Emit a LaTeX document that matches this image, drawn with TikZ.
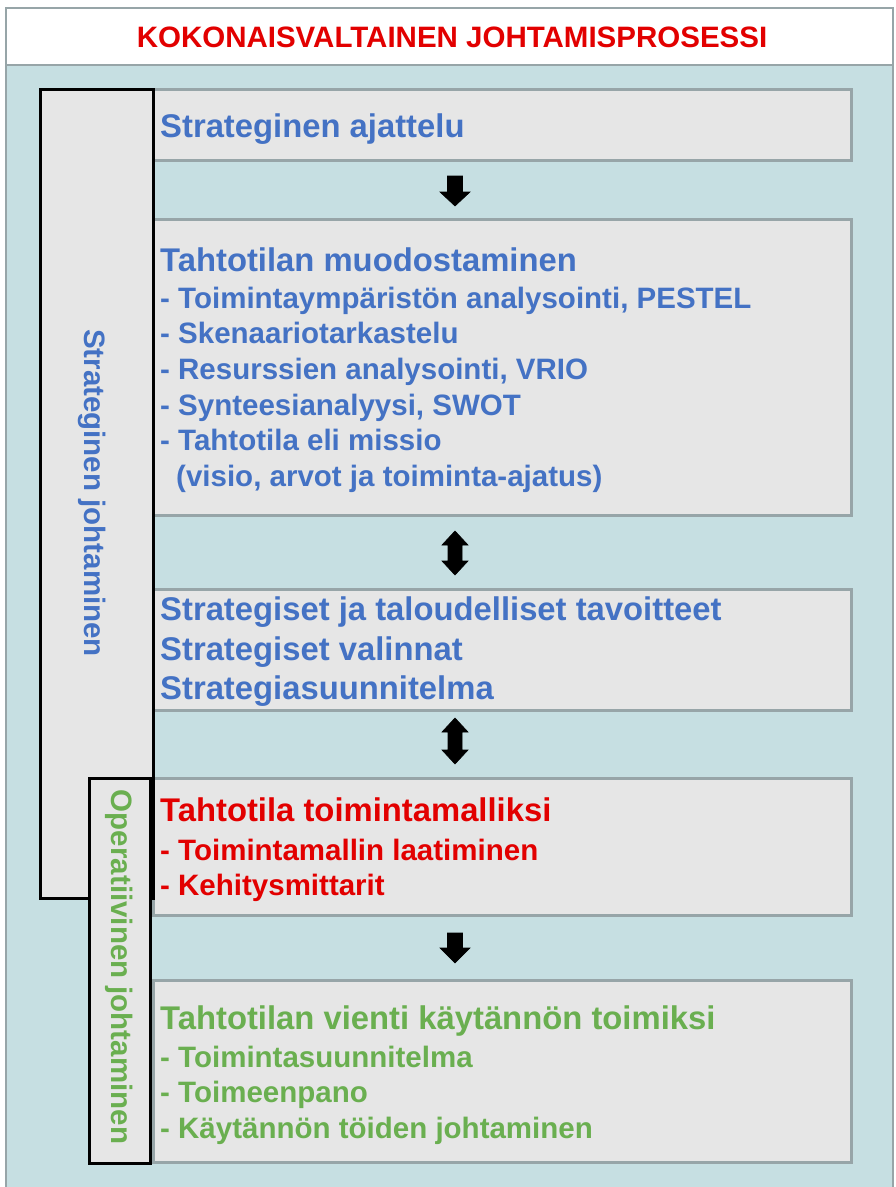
\documentclass[tikz,border=0pt]{standalone}
\usepackage{fontspec}
\setmainfont{Liberation Sans}
\definecolor{panelblue}{RGB}{198,223,226}
\definecolor{boxgray}{RGB}{230,230,230}
\definecolor{edgegray}{RGB}{151,165,168}
\definecolor{txtblue}{RGB}{68,114,196}
\definecolor{txtred}{RGB}{226,0,0}
\definecolor{txtgreen}{RGB}{106,175,80}
\tikzset{
  stagebox/.style={fill=boxgray, draw=edgegray, line width=3pt},
  sidebox/.style={fill=boxgray, draw=black, line width=3pt},
  head/.style={anchor=base west, inner sep=0pt, font=\fontsize{32.8}{39}\selectfont\bfseries},
  item/.style={anchor=base west, inner sep=0pt, font=\fontsize{29.5}{35}\selectfont\bfseries},
  sidelabel/.style={rotate=-90, inner sep=0pt, font=\fontsize{29.5}{35}\selectfont\bfseries},
  blockarrow/.style={fill=black, draw=black, line width=0.6pt, line join=miter}
}
% filled down arrow: x centre, top of shaft, start of head, tip
\newcommand\blockdown[4]{%
  \filldraw[blockarrow] (#1-7.5,#2) -- (#1+7.5,#2) -- (#1+7.5,#3) -- (#1+15,#3)
    -- (#1,#4) -- (#1-15,#3) -- (#1-7.5,#3) -- cycle;}
% filled double arrow: x centre, upper tip, upper head base, lower head base, lower tip
\newcommand\blockboth[5]{%
  \filldraw[blockarrow] (#1,#2) -- (#1+13,#3) -- (#1+7,#3) -- (#1+7,#4) -- (#1+13,#4)
    -- (#1,#5) -- (#1-13,#4) -- (#1-7,#4) -- (#1-7,#3) -- (#1-13,#3) -- cycle;}
\begin{document}
\begin{tikzpicture}[x=1pt,y=-1pt]
\useasboundingbox (0,0) rectangle (895,1187);

% frame: title strip and coloured panel
\draw[fill=panelblue, draw=edgegray, line width=2.5pt] (6,65) rectangle (893,1200);
\draw[fill=white, draw=edgegray, line width=2.5pt] (6,8) rectangle (893,65);
\node[inner sep=0pt, anchor=base, text=txtred, font=\fontsize{29.5}{35}\selectfont\bfseries]
  (title) at (452,47) {KOKONAISVALTAINEN JOHTAMISPROSESSI};

% process stages
\draw[stagebox] (153,89) rectangle (851,160);
\draw[stagebox] (153,219) rectangle (851,515);
\draw[stagebox] (153,589) rectangle (851,710);
\draw[stagebox] (153,778) rectangle (851,915);
\draw[stagebox] (153,980) rectangle (851,1162);

% side brackets, drawn over the left edges of the stages
\draw[sidebox] (40,89) rectangle (153,898);
\draw[sidebox] (89,778) rectangle (150,1163);
\node[sidelabel, text=txtblue] (lblstrat) at (92,493) {Strateginen johtaminen};
\node[sidelabel, text=txtgreen] (lbloper) at (119,967) {Operatiivinen johtaminen};

\node[head, text=txtblue] (s1) at (160,137) {Strateginen ajattelu};

\node[head, text=txtblue] (s2) at (160,271) {Tahtotilan muodostaminen};
\node[item, text=txtblue] (s2a) at (160,308) {- Toimintaympäristön analysointi, PESTEL};
\node[item, text=txtblue] (s2b) at (160,343) {- Skenaariotarkastelu};
\node[item, text=txtblue] (s2c) at (160,379) {- Resurssien analysointi, VRIO};
\node[item, text=txtblue] (s2d) at (160,415) {- Synteesianalyysi, SWOT};
\node[item, text=txtblue] (s2e) at (160,450) {- Tahtotila eli missio};
\node[item, text=txtblue] (s2f) at (176,486) {(visio, arvot ja toiminta-ajatus)};

\node[head, text=txtblue] (s3a) at (160,620) {Strategiset ja taloudelliset tavoitteet};
\node[head, text=txtblue] (s3b) at (160,660) {Strategiset valinnat};
\node[head, text=txtblue] (s3c) at (160,699) {Strategiasuunnitelma};

\node[head, text=txtred] (s4) at (160,821) {Tahtotila toimintamalliksi};
\node[item, text=txtred] (s4a) at (160,860) {- Toimintamallin laatiminen};
\node[item, text=txtred] (s4b) at (160,895) {- Kehitysmittarit};

\node[head, text=txtgreen] (s5) at (160,1029) {Tahtotilan vienti käytännön toimiksi};
\node[item, text=txtgreen] (s5a) at (160,1067) {- Toimintasuunnitelma};
\node[item, text=txtgreen] (s5b) at (160,1102) {- Toimeenpano};
\node[item, text=txtgreen] (s5c) at (160,1138) {- Käytännön töiden johtaminen};

% arrows between stages
\blockdown{455}{176}{192}{206}
\blockboth{455}{531}{545}{561}{575}
\blockboth{455}{718}{732}{750}{764}
\blockdown{455}{933}{948}{963}
\end{tikzpicture}
\end{document}
